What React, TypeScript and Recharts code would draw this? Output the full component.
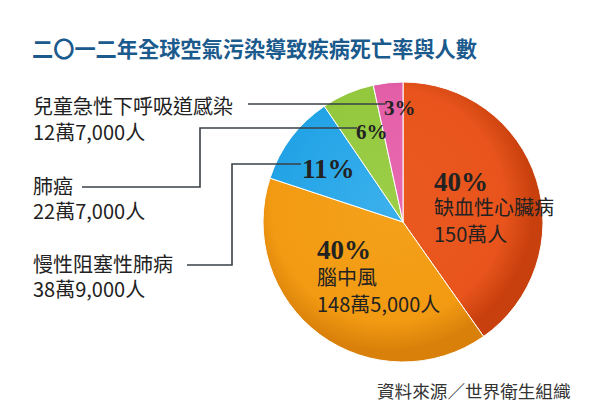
import React from 'react';
import { PieChart, Pie, Cell } from 'recharts';

const title = '二〇一二年全球空氣污染導致疾病死亡率與人數';
const source = '資料來源／世界衛生組織';
const categories = ['缺血性心臟病', '腦中風', '慢性阻塞性肺病', '肺癌', '兒童急性下呼吸道感染'];
const deaths = [1500000, 1485000, 389000, 227000, 127000];
const deathLabels = ['150萬人', '148萬5,000人', '38萬9,000人', '22萬7,000人', '12萬7,000人'];
const percentLabels = ['40%', '40%', '11%', '6%', '3%'];
const colors = ['#E8541C', '#F29A12', '#22A3E6', '#93C83E', '#E35FA8'];
const edgeColors = ['#C8400E', '#D9800A', '#1583C4', '#74A82A', '#C84790'];
const centerColors = ['#EA5A20', '#F4A21A', '#3AB0EC', '#9CCE48', '#E86AB0'];

const data = categories.map((name, i) => ({ name, value: deaths[i] }));

const CJK = '"Noto Sans CJK TC", "Noto Sans CJK SC", sans-serif';
const SERIF = '"Liberation Serif", "DejaVu Serif", serif';
const TXT = '#222222';
const LINE = '#3a4048';
const FS = 20;

const renderLabel = (props: any) => {
  const { cx, cy, index } = props;
  if (index === 0) {
    const x = cx + 31;
    return (
      <g key="l0">
        <text x={x} y={cy - 31} fontFamily={SERIF} fontWeight={700} fontSize={27} fill={TXT}>{percentLabels[0]}</text>
        <text x={x} y={cy - 7} fontFamily={CJK} fontSize={FS} fill={TXT}>{categories[0]}</text>
        <text x={x} y={cy + 20} fontFamily={CJK} fontSize={FS} fill={TXT}>{deathLabels[0]}</text>
      </g>
    );
  }
  if (index === 1) {
    const x = cx - 86;
    return (
      <g key="l1">
        <text x={x} y={cy + 37} fontFamily={SERIF} fontWeight={700} fontSize={27} fill={TXT}>{percentLabels[1]}</text>
        <text x={x} y={cy + 63} fontFamily={CJK} fontSize={FS} fill={TXT}>{categories[1]}</text>
        <text x={x} y={cy + 90} fontFamily={CJK} fontSize={FS} fill={TXT}>{deathLabels[1]}</text>
      </g>
    );
  }
  if (index === 2) {
    return (
      <g key="l2">
        <polyline points={`187,265 232,265 232,164 ${cx - 102},164`} fill="none" stroke={LINE} strokeWidth={1.6} />
        <text x={cx - 101} y={cy - 44} fontFamily={SERIF} fontWeight={700} fontSize={27} fill={TXT}>{percentLabels[2]}</text>
        <text x={33} y={272} fontFamily={CJK} fontSize={FS} fill={TXT}>{categories[2]}</text>
        <text x={33} y={297} fontFamily={CJK} fontSize={FS} fill={TXT}>{deathLabels[2]}</text>
      </g>
    );
  }
  if (index === 3) {
    return (
      <g key="l3">
        <polyline points={`82,187 200,187 200,128 ${cx - 46},128`} fill="none" stroke={LINE} strokeWidth={1.6} />
        <text x={cx - 47} y={cy - 83} fontFamily={SERIF} fontWeight={700} fontSize={21} fill={TXT}>{percentLabels[3]}</text>
        <text x={33} y={194} fontFamily={CJK} fontSize={FS} fill={TXT}>{categories[3]}</text>
        <text x={33} y={219} fontFamily={CJK} fontSize={FS} fill={TXT}>{deathLabels[3]}</text>
      </g>
    );
  }
  return (
    <g key="l4">
      <polyline points={`248,104 ${cx - 18},104`} fill="none" stroke={LINE} strokeWidth={1.6} />
      <text x={cx - 19} y={cy - 107} fontFamily={SERIF} fontWeight={700} fontSize={21} fill={TXT}>{percentLabels[4]}</text>
      <text x={33} y={114} fontFamily={CJK} fontSize={FS} fill={TXT}>{categories[4]}</text>
      <text x={33} y={140} fontFamily={CJK} fontSize={FS} fill={TXT}>{deathLabels[4]}</text>
    </g>
  );
};

export default function App() {
  const CX = 398;
  const CY = 217;
  const R = 140;
  return (
    <div style={{ position: 'absolute', left: 0, top: 0, width: 600, height: 416, background: '#ffffff' }}>
      <svg width={600} height={416} style={{ position: 'absolute', left: 0, top: 0 }}>
        <text x={32} y={57} fontFamily={CJK} fontWeight={700} fontSize={21.2} fill="#1B5A8C">{title}</text>
        <text x={377} y={398} fontFamily={CJK} fontSize={17.6} fill="#333333">{source}</text>
      </svg>
      <div style={{ position: 'absolute', left: 0, top: 0 }}>
        <PieChart width={600} height={416}>
          <defs>
            {colors.map((c, i) => (
              <radialGradient key={i} id={`g${i}`} gradientUnits="userSpaceOnUse" cx={CX - 10} cy={CY - 12} r={R + 6}>
                <stop offset="0%" stopColor={centerColors[i]} />
                <stop offset="80%" stopColor={c} />
                <stop offset="100%" stopColor={edgeColors[i]} />
              </radialGradient>
            ))}
          </defs>
          <Pie
            data={data}
            dataKey="value"
            nameKey="name"
            cx={CX}
            cy={CY}
            outerRadius={R}
            startAngle={90}
            endAngle={-270}
            stroke="#ffffff"
            strokeWidth={1}
            isAnimationActive={false}
            labelLine={false}
            label={renderLabel}
          >
            {data.map((d, i) => (
              <Cell key={d.name} fill={`url(#g${i})`} />
            ))}
          </Pie>
        </PieChart>
      </div>
    </div>
  );
}
